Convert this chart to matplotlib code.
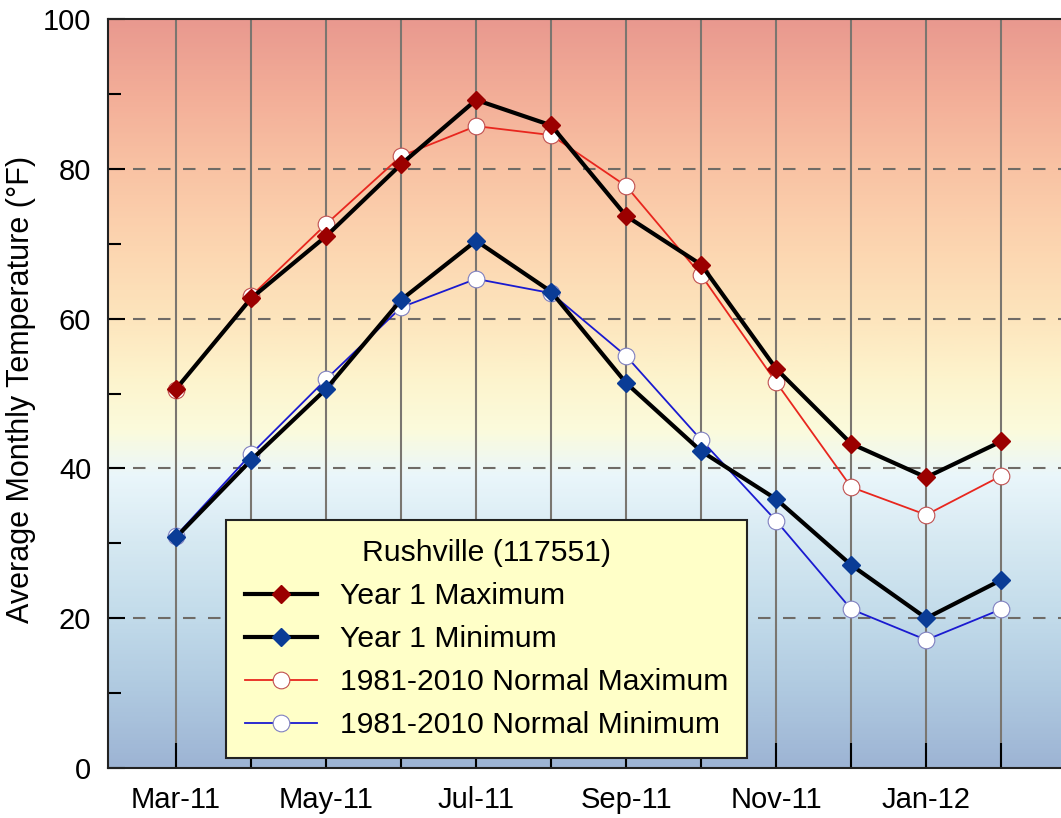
import numpy as np
import matplotlib
matplotlib.use('Agg')
import matplotlib.pyplot as plt
from matplotlib.colors import LinearSegmentedColormap

months = ['Mar-11', 'Apr-11', 'May-11', 'Jun-11', 'Jul-11', 'Aug-11',
          'Sep-11', 'Oct-11', 'Nov-11', 'Dec-11', 'Jan-12', 'Feb-12']
year1_max = [50.6, 62.7, 71.0, 80.6, 89.2, 85.8, 73.7, 67.2, 53.3, 43.3, 38.8, 43.6]
year1_min = [30.8, 41.1, 50.6, 62.5, 70.4, 63.6, 51.4, 42.3, 35.9, 27.1, 20.0, 25.1]
normal_max = [50.5, 63.0, 72.6, 81.7, 85.7, 84.5, 77.7, 65.8, 51.5, 37.5, 33.8, 39.0]
normal_min = [31.0, 41.9, 51.9, 61.5, 65.3, 63.4, 55.0, 43.8, 33.0, 21.2, 17.1, 21.2]
station = 'Rushville (117551)'

plt.rcParams['font.family'] = ['Liberation Sans', 'DejaVu Sans']

fig = plt.figure(figsize=(10.61, 8.18), dpi=100)
ax = fig.add_axes([108/1061, 50/818, 972/1061, 749/818])

x = np.arange(len(months))
xlim = (-0.907, 12.05)

# background gradient
grad_stops = [(0.00, '#9db4d4'), (0.10, '#afc9e0'), (0.20, '#c2dbea'),
              (0.30, '#d6e9f2'), (0.39, '#eaf6fb'), (0.45, '#fbfbdc'),
              (0.52, '#fdf4cd'), (0.60, '#fde5bd'), (0.70, '#fcd5b0'),
              (0.80, '#f9c3a4'), (0.90, '#f3ae98'), (1.00, '#e9998f')]
cmap = LinearSegmentedColormap.from_list('temp', grad_stops)
grad = np.linspace(0, 1, 400).reshape(-1, 1)
ax.imshow(grad, cmap=cmap, aspect='auto', origin='lower',
          extent=(xlim[0], xlim[1], 0, 100), zorder=0)

for xi in x:
    ax.axvline(xi, color='#7a7670', lw=1.5, zorder=1)
for yv in [20, 40, 60, 80]:
    ax.axhline(yv, color='#6f6b66', lw=1.5, ls=(0, (6, 6)), zorder=1)

ax.plot(x, year1_max, color='black', lw=3, marker='D', ms=9,
        mfc='#9b0000', mec='#9b0000', label='Year 1 Maximum', zorder=4)
ax.plot(x, year1_min, color='black', lw=3, marker='D', ms=9,
        mfc='#0a3c96', mec='#0a3c96', label='Year 1 Minimum', zorder=4)
ax.plot(x, normal_max, color='#e8261e', lw=1.3, marker='o', ms=12,
        mfc='white', mec='#c05050', mew=0.8, label='1981-2010 Normal Maximum', zorder=3)
ax.plot(x, normal_min, color='#1a1ad0', lw=1.3, marker='o', ms=12,
        mfc='white', mec='#8080c0', mew=0.8, label='1981-2010 Normal Minimum', zorder=3)

ax.set_xlim(*xlim)
ax.set_ylim(0, 100)
ax.set_xticks(x[::2])
ax.set_xticklabels(months[::2])
ax.set_xticks(x[1::2], minor=True)
ax.set_yticks(range(0, 101, 20))
ax.set_yticks(range(10, 100, 20), minor=True)
ax.tick_params(axis='both', which='both', direction='in', labelsize=21)
ax.tick_params(axis='y', which='major', length=12, width=1.5, pad=12)
ax.tick_params(axis='y', which='minor', length=9, width=1.5)
ax.tick_params(axis='x', which='both', length=18, width=1.5, pad=13)
ax.set_ylabel('Average Monthly Temperature (°F)', fontsize=22)
ax.yaxis.set_label_coords(-0.074, 0.505)
for s in ax.spines.values():
    s.set_linewidth(1.5)
    s.set_color('#222222')

leg = ax.legend(title=station, loc='lower left',
                bbox_to_anchor=(0.1214, 0.0134), borderaxespad=0,
                fontsize=21.7, title_fontsize=21.7, fancybox=False,
                facecolor='#ffffc8', edgecolor='#222222', framealpha=1,
                handlelength=2.4, handletextpad=0.75, labelspacing=0.5,
                borderpad=0.62)
leg.get_frame().set_linewidth(1.5)
leg.set_zorder(5)

fig.savefig('out.png', dpi=100)
